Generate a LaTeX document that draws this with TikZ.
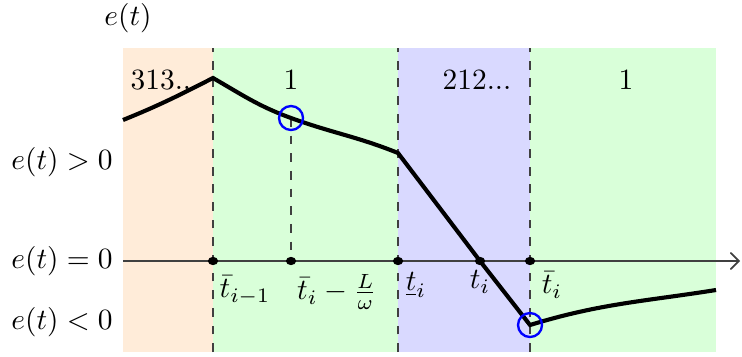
\documentclass[tikz,border=0pt]{standalone}
\usepackage{amsmath}
\usetikzlibrary{arrows}

\tikzset{
  guide/.style={dashed, black!75},
  mark circ/.style={blue, line width=0.8pt},
}

\begin{document}
\begin{tikzpicture}[x=0.34pt,y=0.34pt]
				\useasboundingbox (0,0) rectangle (742,356);

				\coordinate (1) at (123,236);
				\coordinate (2) at (213,278);
				\coordinate (3) at (291,238);
				\coordinate (4) at (398,203);
				\coordinate (5) at (480,95);
				\coordinate (6) at (530,31);
				\coordinate (7) at (716,66);

				\coordinate (a0) at (123,95);
				\coordinate (a1) at (213,95);
				\coordinate (a2) at (291,95);
				\coordinate (a3) at (398,95);
				\coordinate (a4) at (480,95);
				\coordinate (a5) at (530,95);
				\coordinate (aend) at (740,95);

				\fill[orange!15] (123,4) rectangle (213,308);
				\fill[green!15] (213,4) rectangle (398,308);
				\fill[blue!15] (398,4) rectangle (530,308);
				\fill[green!15] (530,4) rectangle (716,308);

				\draw[guide] (213,4) -- (213,308);
				\draw[guide] (398,4) -- (398,308);
				\draw[guide] (530,4) -- (530,308);
				\draw[guide] (3) -- (a2);

				\draw[gray!50!black, line width=0.6pt, ->, >=angle 90] (a0) -- (aend);

				\draw[line width=1.4pt] (1) to[out=22,in=207] (2) to[out=-30,in=160] (3)
					to[out=-20,in=158] (4) -- (5) -- (6) to[out=17,in=189] (7);

				\draw[mark circ] (3) circle (12);
				\draw[mark circ] (6) circle (12);

				\foreach \i in {1, ..., 5}{
						\filldraw[black] (a\i) ellipse (4.5 and 3.5);
					}

				\node (z1) at (165,276) {313...};
				\node (z2) at (291,276) {1};
				\node (z3) at (477,276) {212...};
				\node (z4) at (626,276) {1};

				\node (ey) at (128,338) {$e(t)$};
				\node (epos) at (62,194) {$e(t)>0$};
				\node (ezero) at (62,95) {$e(t)=0$};
				\node (eneg) at (62,34) {$e(t)<0$};

				\node (l1) at (245,66) {$\bar{t}_{i-1}$};
				\node (l2) at (337,64) {$\bar{t}_i-\frac{L}{\omega}$};
				\node (l3) at (416,71) {$\underline{t}_i$};
				\node (l4) at (480,74) {$t_i$};
				\node (l5) at (552,71) {$\bar{t}_i$};
				\node[anchor=west] (lt) at (736,71) {$t$};
			\end{tikzpicture}
\end{document}
